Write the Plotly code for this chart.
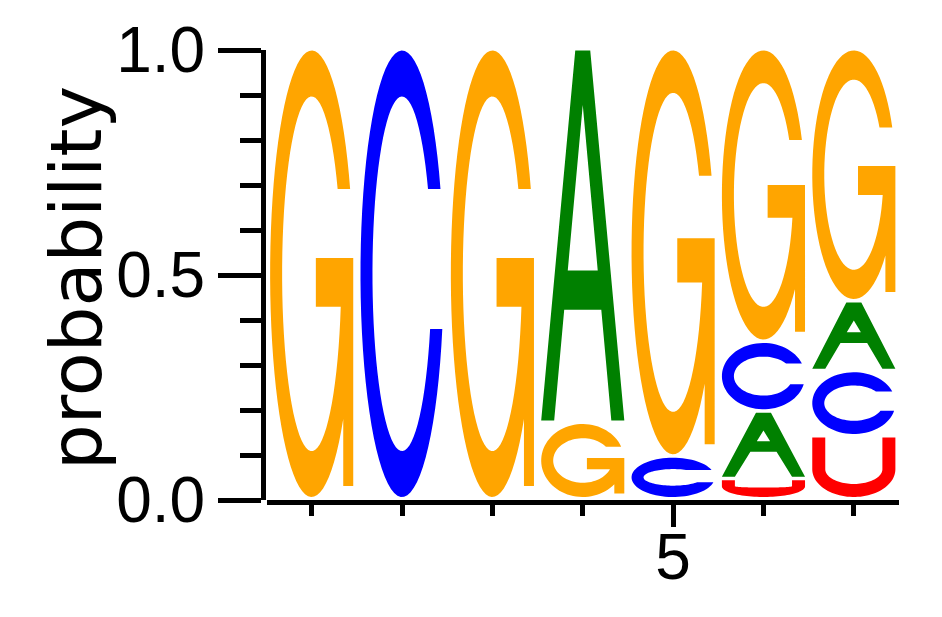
import numpy as np
import plotly.graph_objects as go

# ---------------- data ----------------
positions = [1, 2, 3, 4, 5, 6, 7]
prob_A = [0.0, 0.0, 0.0, 0.83, 0.0, 0.15, 0.155]
prob_C = [0.0, 1.0, 0.0, 0.0, 0.095, 0.155, 0.145]
prob_G = [1.0, 0.0, 1.0, 0.17, 0.905, 0.65, 0.56]
prob_U = [0.0, 0.0, 0.0, 0.0, 0.0, 0.045, 0.14]
letters = ["A", "C", "G", "U"]
letter_colors = {"A": "#008000", "C": "#0000FF", "G": "#FFA500", "U": "#FF0000"}

y_tickvals = [0.0, 0.5, 1.0]
y_ticktext = ["0.0", "0.5", "1.0"]
y_minor_ticks = [0.1, 0.2, 0.3, 0.4, 0.6, 0.7, 0.8, 0.9]
x_tickvals = [5]
x_ticktext = ["5"]
x_minor_ticks = [1, 2, 3, 4, 6, 7]
y_title = "probability"

# ---------------- layout constants ----------------
# page body has an 8px margin, so the figure is sized/offset to compensate
W_FIG, H_FIG = 926, 601
M_L, M_R, M_T, M_B = 255, 35, 42, 109
X_RANGE = [0.5, 7.5]
Y_RANGE = [0.0, 1.0]
paper_w = W_FIG - M_L - M_R
DOM_X0 = 3.5 / paper_w
plot_w = paper_w * (1 - DOM_X0)
plot_h = H_FIG - M_T - M_B
PX_X = plot_w / (X_RANGE[1] - X_RANGE[0])
PX_Y = plot_h / (Y_RANGE[1] - Y_RANGE[0])
LETTER_W = 0.92
INSET_BOT, INSET_TOP = 3.0, 0.5


# ---------------- glyph outlines (local pixel coords, y up) ----------------
def arc(cx, cy, rx, ry, t0, t1, n=72):
    t = np.linspace(t0, t1, n)
    return list(zip(cx + rx * np.cos(t), cy + ry * np.sin(t)))


def ring_params(W, H):
    cx, cy, rx, ry = W / 2, H / 2, W / 2, H / 2
    tx = 12.0
    ty = min(0.085 * H + 8, 0.45 * H)
    rxi, ryi = rx - tx, max(ry - ty, 0.8)
    return cx, cy, rx, ry, rxi, ryi


def glyph_C(W, H):
    cx, cy, rx, ry, rxi, ryi = ring_params(W, H)
    yt, yb = 0.69 * H, 0.376 * H
    to_t = np.arcsin(np.clip((yt - cy) / ry, -1, 1))
    ti_t = np.arcsin(np.clip((yt - cy) / ryi, -1, 1))
    to_b = np.arcsin(np.clip((yb - cy) / ry, -1, 1))
    ti_b = np.arcsin(np.clip((yb - cy) / ryi, -1, 1))
    pts = arc(cx, cy, rx, ry, to_t, 2 * np.pi + to_b)
    pts += arc(cx, cy, rxi, ryi, 2 * np.pi + ti_b, ti_t)
    return [pts]


def glyph_G(W, H):
    cx, cy, rx, ry, rxi, ryi = ring_params(W, H)
    yt = 0.69 * H
    ts = 10.0
    bar_top = 0.535 * H
    bar_th = 0.1 * H + 4
    bar_bot = bar_top - bar_th
    bar_left = 0.55 * W
    sb = 0.02 * H + 2
    to_t = np.arcsin(np.clip((yt - cy) / ry, -1, 1))
    ti_t = np.arcsin(np.clip((yt - cy) / ryi, -1, 1))
    te = 2 * np.pi - np.arccos(np.clip((W - ts - cx) / rx, -1, 1))
    ti_b = np.arcsin(np.clip((bar_bot - cy) / ryi, -1, 1))
    pts = arc(cx, cy, rx, ry, to_t, te)
    pts += [(W - ts, sb), (W, sb), (W, bar_top), (bar_left, bar_top),
            (bar_left, bar_bot), (W - ts, bar_bot)]
    pts += arc(cx, cy, rxi, ryi, 2 * np.pi + ti_b, ti_t)
    return [pts]


def glyph_U(W, H):
    tx = 13.0
    tb = min(0.085 * H + 8, 0.8 * H)
    yc = min(0.4 * H + 4, H)
    cx = W / 2
    ryi = max(yc - tb, 0.5)
    pts = [(0, H), (0, yc)]
    pts += arc(cx, yc, W / 2, yc, np.pi, 2 * np.pi, 50)
    pts += [(W, yc), (W, H), (W - tx, H), (W - tx, yc)]
    pts += arc(cx, yc, W / 2 - tx, ryi, 2 * np.pi, np.pi, 50)
    pts += [(tx, yc), (tx, H)]
    return [pts]


def glyph_A(W, H):
    ah, tl = 7.5, 13.0
    cc = 0.327 * H + 9.4
    th = 0.094 * H + 4.4
    cb_top, cb_bot = cc + th / 2, cc - th / 2
    a = 0.12 * H + 10
    hin = H - a

    def xl(y):
        return tl + (W / 2 - tl) * y / hin

    def xr(y):
        return W - xl(y)

    outer = [(0, 0), (W / 2 - ah, H), (W / 2 + ah, H), (W, 0), (W - tl, 0),
             (xr(cb_bot), cb_bot), (xl(cb_bot), cb_bot), (tl, 0)]
    polys = [outer]
    if cb_top < hin - 1:
        polys.append([(xl(cb_top), cb_top), (xr(cb_top), cb_top), (W / 2, hin)])
    return polys


GLYPHS = {"A": glyph_A, "C": glyph_C, "G": glyph_G, "U": glyph_U}


def letter_path(letter, xc, y0, y1):
    Wp = LETTER_W * PX_X
    Hp = (y1 - y0) * PX_Y - INSET_BOT - INSET_TOP
    if Hp <= 1:
        return None
    x0 = xc - LETTER_W / 2
    yb = y0 + INSET_BOT / PX_Y
    parts = []
    for poly in GLYPHS[letter](Wp, Hp):
        seg = " L ".join(f"{x0 + px / PX_X:.5f},{yb + py / PX_Y:.5f}" for px, py in poly)
        parts.append("M " + seg + " Z")
    return " ".join(parts)


probs = {"A": prob_A, "C": prob_C, "G": prob_G, "U": prob_U}

fig = go.Figure()
shapes = []
for i, pos in enumerate(positions):
    col = sorted([(probs[l][i], l) for l in letters if probs[l][i] > 0])
    base = 0.0
    for p, l in col:
        path = letter_path(l, pos, base, base + p)
        if path:
            shapes.append(dict(type="path", path=path, xref="x", yref="y",
                               fillcolor=letter_colors[l], line=dict(width=0),
                               layer="above"))
        base += p

# invisible trace so axes are drawn with data
fig.add_trace(go.Scatter(x=positions, y=[0] * len(positions), mode="markers",
                         marker=dict(opacity=0), hoverinfo="skip", showlegend=False))

TICK_FONT = dict(family="Liberation Sans, Arial, sans-serif", size=64, color="black")

# title position: screen target centre minus the 8px body offset,
# with an empirical correction for the rotated text box
title_x = (76 - 8 - M_L) / paper_w
title_y = (H_FIG - M_B - (278 - 8)) / plot_h

fig.update_layout(
    width=W_FIG, height=H_FIG,
    margin=dict(l=M_L, r=M_R, t=M_T, b=M_B, autoexpand=False),
    paper_bgcolor="white", plot_bgcolor="white",
    shapes=shapes,
    xaxis=dict(range=X_RANGE, domain=[DOM_X0, 1], showgrid=False, zeroline=False,
               showline=True, linewidth=5, linecolor="black",
               ticks="outside", tickmode="array", tickvals=x_tickvals, ticktext=x_ticktext,
               ticklen=22, tickwidth=5, tickcolor="black", tickfont=TICK_FONT,
               ticklabelstandoff=-25,
               minor=dict(tickmode="array", tickvals=x_minor_ticks, ticks="outside",
                          ticklen=11, tickwidth=5, tickcolor="black", showgrid=False)),
    yaxis=dict(range=Y_RANGE, anchor="free", position=0, showgrid=False, zeroline=False,
               showline=True, linewidth=5, linecolor="black",
               ticks="outside", tickmode="array", tickvals=y_tickvals, ticktext=y_ticktext,
               ticklen=43, tickwidth=5, tickcolor="black", tickfont=TICK_FONT,
               minor=dict(tickmode="array", tickvals=y_minor_ticks, ticks="outside",
                          ticklen=21, tickwidth=5, tickcolor="black", showgrid=False)),
    annotations=[dict(text=y_title, xref="paper", yref="paper",
                      x=title_x, y=title_y,
                      xanchor="center", yanchor="middle", textangle=-90, showarrow=False,
                      font=dict(family="DejaVu Sans, sans-serif", size=72, color="black"))],
)

fig.write_html("out.html")
